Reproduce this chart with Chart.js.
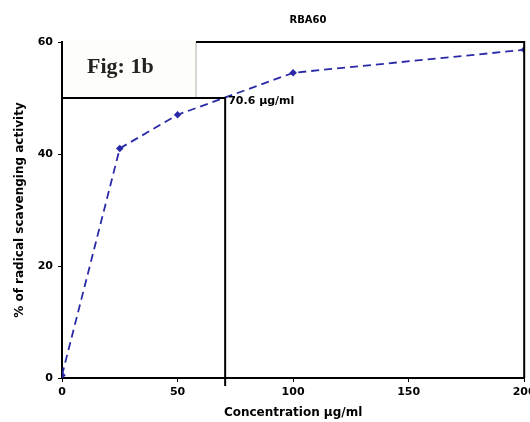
<!DOCTYPE html>
<html>
<head>
<meta charset="utf-8">
<script src="https://cdn.jsdelivr.net/npm/chart.js@4.4.1/dist/chart.umd.min.js"></script>
<style>
  html, body { margin: 0; padding: 0; background: #fff; }
  #wrap { width: 530px; height: 422px; }
</style>
</head>
<body>
<div id="wrap"><canvas id="chart" width="530" height="422"></canvas></div>
<script>
/*************************
 DATA
**************************/
const concentrations = [0, 25, 50, 100, 200];
const scavenging = [0.5, 41, 47, 54.5, 58.6];
const xTicks = [0, 50, 100, 150, 200];
const yTicks = [0, 20, 40, 60];
const ic50Value = 70.6;
const ic50Level = 50;
const ic50Label = "70.6 µg/ml";
const chartTitle = "RBA60";
const figLabel = "Fig: 1b";

const points = concentrations.map((c, i) => ({ x: c, y: scavenging[i] }));

const FONT = "'DejaVu Sans', Arial, sans-serif";

/*************************
 OVERLAY PLUGIN
**************************/
const overlay = {
  id: "overlay",
  afterDatasetsDraw(chart) {
    const ctx = chart.ctx;
    const area = chart.chartArea;
    const xs = chart.scales.x;
    const ys = chart.scales.y;
    const px = xs.getPixelForValue(ic50Value);
    const py = ys.getPixelForValue(ic50Level);
    const boxRight = xs.getPixelForValue(58);

    ctx.save();
    // fig label box
    ctx.fillStyle = "#fdfdfa";
    ctx.fillRect(area.left + 1, area.top - 1, boxRight - area.left - 1, py - area.top + 1);
    ctx.strokeStyle = "#c9c9c9";
    ctx.lineWidth = 1.5;
    ctx.beginPath();
    ctx.moveTo(boxRight, area.top);
    ctx.lineTo(boxRight, py);
    ctx.stroke();
    ctx.fillStyle = "#222";
    ctx.font = "bold 22px 'Liberation Serif', serif";
    ctx.textBaseline = "middle";
    ctx.textAlign = "left";
    ctx.fillText(figLabel, area.left + 25, area.top + 25);

    // frame top and right
    ctx.strokeStyle = "#000";
    ctx.lineWidth = 2;
    ctx.beginPath();
    ctx.moveTo(boxRight, area.top);
    ctx.lineTo(area.right, area.top);
    ctx.lineTo(area.right, area.bottom);
    ctx.stroke();

    // IC50 guide lines
    ctx.beginPath();
    ctx.moveTo(area.left, py);
    ctx.lineTo(px, py);
    ctx.lineTo(px, area.bottom + 8);
    ctx.stroke();

    ctx.fillStyle = "#000";
    ctx.font = "bold 11px " + FONT;
    ctx.textBaseline = "middle";
    ctx.fillText(ic50Label, px + 3, py + 3);

    // title
    ctx.font = "bold 10px " + FONT;
    ctx.textAlign = "center";
    ctx.fillText(chartTitle, 308, 20);
    ctx.restore();
  }
};

/*************************
 CHART
**************************/
const ctx = document.getElementById("chart").getContext("2d");
const chart = new Chart(ctx, {
  type: "scatter",
  data: {
    datasets: [{
      data: points,
      showLine: true,
      borderColor: "#2a2aa8",
      backgroundColor: "#2a2aa8",
      borderWidth: 1.8,
      borderDash: [8, 5],
      pointStyle: "rectRot",
      pointRadius: 2.5,
      tension: 0
    }]
  },
  options: {
    responsive: false,
    animation: false,
    layout: { padding: { top: 42, right: 3, left: 13, bottom: 0 } },
    plugins: {
      legend: { display: false },
      tooltip: { enabled: false },
      title: { display: false }
    },
    scales: {
      x: {
        type: "linear",
        min: 0,
        max: 200,
        afterBuildTicks: (s) => { s.ticks = xTicks.map(v => ({ value: v })); },
        afterFit: (s) => { s.paddingLeft = 0; s.paddingRight = 0; s.height = 44; },
        grid: { drawOnChartArea: false, tickLength: 4, color: "#000", lineWidth: 1 },
        border: { color: "#000", width: 2 },
        ticks: {
          color: "#000",
          padding: 4,
          maxRotation: 0,
          font: { family: FONT, size: 11, weight: "bold" }
        },
        title: {
          display: true,
          text: "Concentration µg/ml",
          color: "#000",
          padding: { top: 0, bottom: 2 },
          font: { family: FONT, size: 12, weight: "bold" }
        }
      },
      y: {
        min: 0,
        max: 60,
        afterBuildTicks: (s) => { s.ticks = yTicks.map(v => ({ value: v })); },
        afterFit: (s) => { s.paddingTop = 0; s.paddingBottom = 0; s.width = 49; },
        grid: { drawOnChartArea: false, tickLength: 4, color: "#000", lineWidth: 1 },
        border: { color: "#000", width: 2 },
        ticks: {
          color: "#000",
          padding: 5,
          font: { family: FONT, size: 11, weight: "bold" }
        },
        title: {
          display: true,
          text: "% of radical scavenging activity",
          color: "#000",
          padding: { top: 0, bottom: 3 },
          font: { family: FONT, size: 12, weight: "bold" }
        }
      }
    }
  },
  plugins: [overlay]
});
</script>
</body>
</html>
